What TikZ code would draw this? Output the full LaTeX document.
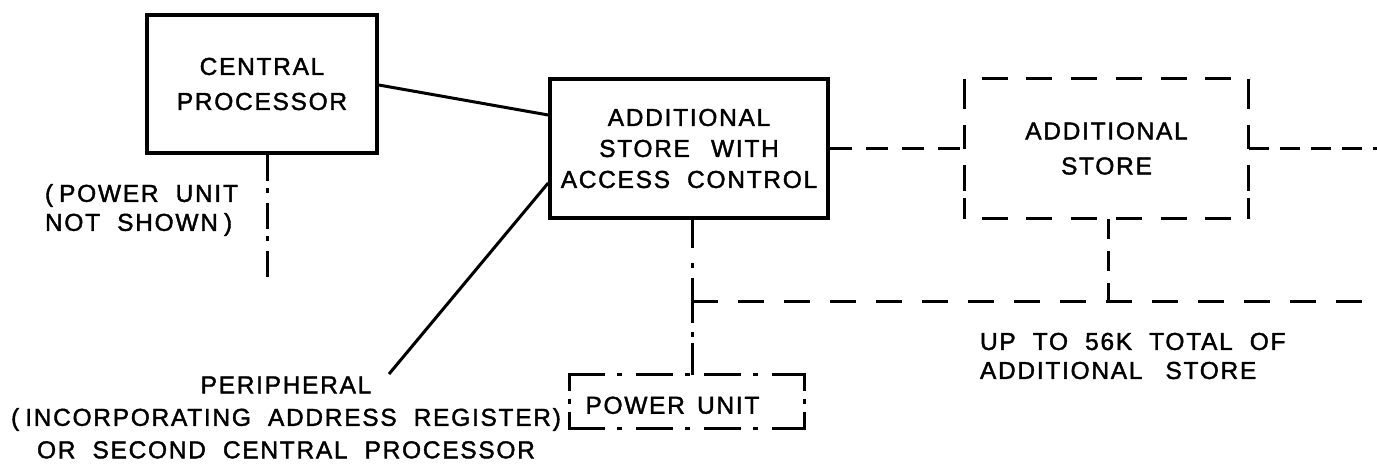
\documentclass[tikz,border=0pt]{standalone}
\usepackage{fontspec}
\usetikzlibrary{decorations}
\setmainfont{Liberation Sans}[LetterSpace=7,WordSpace=2.0,FakeBold=1.6]
\newcommand\diagfont[1]{\fontsize{24.5}{#1}\selectfont}
\begin{document}
\begin{tikzpicture}[x=1pt,y=-1pt,
  box/.style={draw, line width=3.6pt, rectangle, inner sep=0pt, align=center},
  plainbox/.style={rectangle, inner sep=0pt, outer sep=0pt, align=center},
  txt/.style={inner sep=0pt, outer sep=0pt},
  conn/.style={line width=3pt},
  dl/.style={line width=3pt},
  cpdd/.style={line width=3pt, dash pattern=on 26pt off 7pt on 5pt off 10pt},
  vdd/.style={line width=3pt, dash pattern=on 28pt off 15pt on 5pt off 10pt on 45pt off 9pt on 5pt off 6pt on 32pt off 40pt},
  astb/.style={line width=3.2pt, dash pattern=on 26pt off 15pt, dash expand off},
  asside/.style={line width=3.2pt, dash pattern=on 30pt off 16pt on 24pt off 16pt on 26pt off 7pt on 21pt off 40pt},
  putb/.style={line width=3.2pt, dash pattern=on 37pt off 12pt on 5pt off 14pt on 37pt off 12pt on 5pt off 14pt on 37pt off 12pt on 5pt off 14pt on 40pt off 40pt},
  puside/.style={line width=3.2pt, dash pattern=on 16pt off 8pt on 5pt off 8pt on 17pt off 40pt},
  buspat/.style={line width=3pt, dash pattern=on 26pt off 20pt},
]
\fill[white] (0,0) rectangle (1377,464);
\useasboundingbox (0,0) rectangle (1377,464);

% main boxes
\node[box, minimum width=230pt, minimum height=138pt, font=\diagfont{35}] (cp) at (262,84) {CENTRAL\\PROCESSOR};
\node[box, minimum width=278pt, minimum height=139pt, font=\diagfont{31}] (asac) at (689,148.5) {ADDITIONAL\\STORE\hspace{4pt} WITH\\ACCESS CONTROL};
\node[plainbox, minimum width=284pt, minimum height=140pt, font=\diagfont{35}] (as) at (1106.5,148.5) {ADDITIONAL\\STORE};
\node[plainbox, minimum width=235pt, minimum height=54pt, text width=203pt, inner xsep=16pt, align=left, text height=24.5pt, text depth=0pt, font=\diagfont{30}] (pu) at (687,401.5) {POWER\hspace{4pt} UNIT};

% dashed border of additional store
\draw[astb] ([xshift=-1.6pt]as.north west) -- ([xshift=1.6pt]as.north east);
\draw[astb] ([xshift=-1.6pt]as.south west) -- ([xshift=1.6pt]as.south east);
\draw[asside] (as.north west) -- (as.south west);
\draw[asside] (as.north east) -- (as.south east);

% dash-dot border of power unit
\draw[putb] ([xshift=-1.6pt]pu.north west) -- ([xshift=1.6pt]pu.north east);
\draw[putb] ([xshift=-1.6pt]pu.south west) -- ([xshift=1.6pt]pu.south east);
\draw[puside] (pu.north west) -- (pu.south west);
\draw[puside] (pu.north east) -- (pu.south east);

% labels
\node[txt, align=left, anchor=west, font=\diagfont{29}] (pwrnote) at (45,210) {(\hspace{6pt}POWER UNIT\\NOT SHOWN\hspace{6pt})};
\node[txt, align=center, font=\diagfont{32.5}] (periph) at (286,417.5) {PERIPHERAL\\(\hspace{6pt}INCORPORATING ADDRESS REGISTER)\\OR SECOND CENTRAL PROCESSOR};
\node[txt, align=left, anchor=west, font=\diagfont{29}] (note56) at (980,356) {UP TO 56K TOTAL OF\\ADDITIONAL\hspace{6pt} STORE};

% coordinates for free ends
\coordinate (pend) at (389,374);
\coordinate (cpdrop) at (267,278);
\coordinate (rtend) at (1377,148.5);
\coordinate (busL) at (692,301);
\coordinate (busR) at (1377,301);

% connectors
\draw[conn] ([yshift=-1pt]cp.east) -- ([yshift=33.5pt]asac.west);
\draw[conn] ([yshift=-34.5pt]asac.west) -- (pend);
\draw[cpdd] ([xshift=5pt]cp.south) -- (cpdrop);
\draw[dl, dash pattern=on 22pt off 14pt] (asac.east) -- (asac.east -| as.west);
\draw[dl, dash pattern=on 20pt off 11pt] (as.east) -- (rtend);
\draw[buspat] (busL) -- (busR);
\draw[dl, dash pattern=on 20pt off 12pt] ([xshift=1.5pt]as.south) -- ([xshift=1.5pt]as.south |- busL);
\draw[vdd] (asac.south -| busL) -- (pu.north -| busL);
\end{tikzpicture}
\end{document}
